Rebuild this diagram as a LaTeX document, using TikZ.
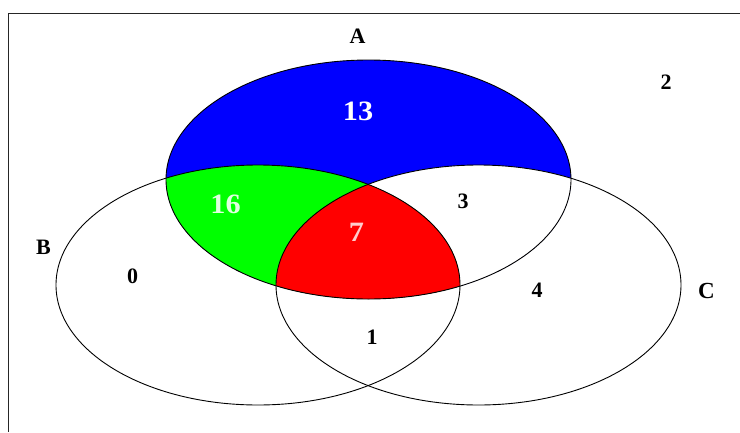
\documentclass[tikz,border=0pt]{standalone}
\usepackage{fontspec}
\setmainfont{Liberation Serif}
\begin{document}
\begin{tikzpicture}[x=1pt,y=-1pt,
  lbl/.style={font=\fontsize{22}{24}\selectfont\bfseries, text=black, inner sep=0pt},
  wlbl/.style={font=\fontsize{28}{30}\selectfont\bfseries, text=white, inner sep=0pt, xscale=1.08},
  edge/.style={draw=black, line width=0.9pt}]
\useasboundingbox (0,0) rectangle (740,432);
\fill[white] (0,0) rectangle (740,432);
\def\ellA{(368.5,179.5) ellipse [x radius=202.5pt, y radius=119.5pt]}
\def\ellB{(258,285) ellipse [x radius=202pt, y radius=120pt]}
\def\ellC{(478.5,285) ellipse [x radius=202.5pt, y radius=120pt]}
% regions
\fill[blue] \ellA;
\begin{scope}
  \clip \ellA;
  \fill[white] \ellC;
  \fill[green] \ellB;
  \clip \ellB;
  \fill[red] \ellC;
\end{scope}
% outlines
\draw[edge] \ellA;
\draw[edge] \ellB;
\draw[edge] \ellC;
% frame
\coordinate (fTL) at (8.5,13.5);
\coordinate (fTR) at (740,13.5);
\coordinate (fBL) at (8.5,432);
\draw[line width=1.8pt, black!85] (fTR) -- (fTL) -- (fBL);
% labels
\node[lbl] (lA) at (357.5,36) {A};
\node[lbl] (lB) at (43.5,247) {B};
\node[lbl, font=\fontsize{23}{25}\selectfont\bfseries] (lC) at (706.5,290.5) {C};
\node[lbl] (n2) at (666,82) {2};
\node[wlbl] (n13) at (358,111) {13};
\node[wlbl, text=green!12!white] (n16) at (225.5,204) {16};
\node[wlbl, text=red!20!white] (n7) at (356.5,232.5) {7};
\node[lbl] (n3) at (463,201) {3};
\node[lbl] (n0) at (132.5,276) {0};
\node[lbl] (n4) at (537,290) {4};
\node[lbl] (n1) at (372,337) {1};
\end{tikzpicture}
\end{document}
